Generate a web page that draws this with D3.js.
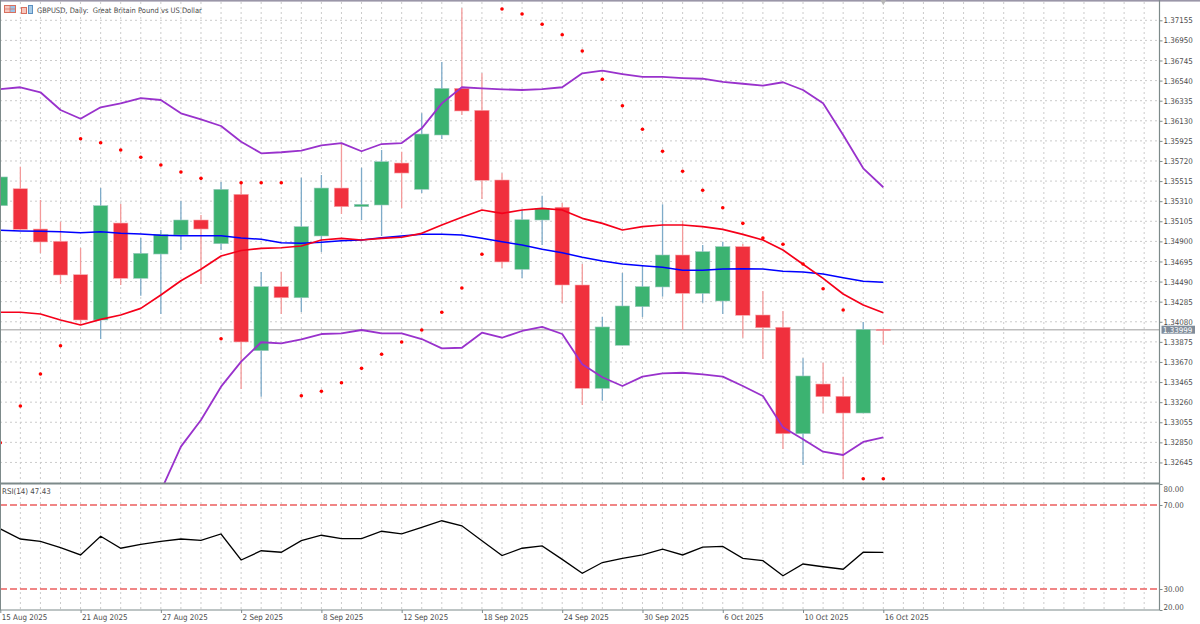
<!DOCTYPE html>
<html><head><meta charset="utf-8">
<script src="https://cdn.jsdelivr.net/npm/d3@7"></script>
<style>html,body{margin:0;padding:0;background:#fff;overflow:hidden}svg{display:block}text{font-family:"DejaVu Sans Condensed","DejaVu Sans",sans-serif;font-stretch:condensed}</style>
</head><body><svg id="c" width="1200" height="624"></svg>
<script>
const dates=["15 Aug 2025","18 Aug 2025","19 Aug 2025","20 Aug 2025","21 Aug 2025","22 Aug 2025","25 Aug 2025","26 Aug 2025","27 Aug 2025","28 Aug 2025","29 Aug 2025","1 Sep 2025","2 Sep 2025","3 Sep 2025","4 Sep 2025","5 Sep 2025","8 Sep 2025","9 Sep 2025","10 Sep 2025","11 Sep 2025","12 Sep 2025","15 Sep 2025","16 Sep 2025","17 Sep 2025","18 Sep 2025","19 Sep 2025","22 Sep 2025","23 Sep 2025","24 Sep 2025","25 Sep 2025","26 Sep 2025","29 Sep 2025","30 Sep 2025","1 Oct 2025","2 Oct 2025","3 Oct 2025","6 Oct 2025","7 Oct 2025","8 Oct 2025","9 Oct 2025","10 Oct 2025","13 Oct 2025","14 Oct 2025","15 Oct 2025","16 Oct 2025"];
const opens=[1.35264,1.35437,1.35026,1.34901,1.34560,1.34098,1.35087,1.34523,1.34771,1.34965,1.35118,1.34876,1.35380,1.33785,1.34438,1.34325,1.34955,1.35444,1.35254,1.35271,1.35699,1.35431,1.35985,1.36461,1.36237,1.35526,1.34615,1.35118,1.35248,1.34455,1.33401,1.33840,1.34234,1.34435,1.34761,1.34370,1.34292,1.34846,1.34149,1.34024,1.32938,1.33445,1.33320,1.33149,1.34003];
const highs=[1.35659,1.35662,1.35322,1.35101,1.34832,1.35444,1.35281,1.34934,1.35016,1.35312,1.35169,1.35506,1.35509,1.34588,1.34591,1.35549,1.35577,1.35900,1.35651,1.35832,1.35815,1.36206,1.36730,1.37277,1.36614,1.35594,1.35220,1.35366,1.35291,1.34669,1.34132,1.34577,1.34659,1.35278,1.35111,1.34863,1.34897,1.34873,1.34394,1.34190,1.33707,1.33662,1.33520,1.34078,1.34003];
const lows=[1.35240,1.35016,1.34781,1.34465,1.34047,1.33904,1.34455,1.34346,1.34159,1.34812,1.34465,1.34812,1.33394,1.33316,1.34159,1.34180,1.34792,1.35179,1.35118,1.34955,1.35240,1.35393,1.35944,1.36189,1.35332,1.34628,1.34526,1.34863,1.34268,1.33231,1.33275,1.33840,1.34129,1.34336,1.33996,1.34274,1.34159,1.33917,1.33700,1.32782,1.32619,1.33146,1.32473,1.33149,1.33846];
const closes=[1.35557,1.35023,1.34894,1.34557,1.34098,1.35264,1.34523,1.34778,1.34972,1.35118,1.35026,1.35431,1.33874,1.34438,1.34325,1.35050,1.35444,1.35254,1.35278,1.35713,1.35597,1.35995,1.36461,1.36230,1.35523,1.34690,1.35121,1.35237,1.34455,1.33401,1.34027,1.34241,1.34438,1.34761,1.34370,1.34795,1.34846,1.34146,1.34019,1.32938,1.33527,1.33316,1.33149,1.34003,1.33999];
const bandUpper=[1.36454,1.36472,1.36421,1.36240,1.36151,1.36268,1.36308,1.36362,1.36342,1.36206,1.36145,1.36077,1.35917,1.35798,1.35809,1.35825,1.35880,1.35903,1.35819,1.35893,1.35903,1.36053,1.36308,1.36472,1.36461,1.36451,1.36444,1.36454,1.36472,1.36614,1.36641,1.36607,1.36577,1.36577,1.36566,1.36559,1.36526,1.36508,1.36488,1.36523,1.36444,1.36308,1.35985,1.35645,1.35452];
const bandMiddle=[1.34177,1.34177,1.34159,1.34098,1.34047,1.34105,1.34149,1.34217,1.34353,1.34499,1.34615,1.34751,1.34807,1.34829,1.34835,1.34853,1.34914,1.34931,1.34914,1.34931,1.34942,1.34982,1.35067,1.35146,1.35220,1.35186,1.35220,1.35237,1.35220,1.35135,1.35084,1.35016,1.35050,1.35067,1.35067,1.35050,1.35023,1.34972,1.34914,1.34812,1.34666,1.34523,1.34363,1.34251,1.34172];
const bandLower=[null,null,null,null,null,null,null,null,1.32354,1.32806,1.33078,1.33418,1.33673,1.33871,1.33860,1.33901,1.33955,1.33962,1.33996,1.33962,1.33962,1.33904,1.33809,1.33815,1.33968,1.33917,1.33986,1.34027,1.33955,1.33646,1.33514,1.33425,1.33520,1.33554,1.33560,1.33544,1.33520,1.33425,1.33323,1.33004,1.32881,1.32755,1.32721,1.32854,1.32902];
const movingAvg=[1.35013,1.35006,1.35003,1.34999,1.34988,1.34999,1.34982,1.34975,1.34962,1.34958,1.34958,1.34958,1.34934,1.34921,1.34886,1.34880,1.34891,1.34907,1.34914,1.34937,1.34955,1.34972,1.34972,1.34965,1.34931,1.34897,1.34863,1.34819,1.34784,1.34738,1.34700,1.34669,1.34652,1.34636,1.34605,1.34605,1.34618,1.34621,1.34618,1.34595,1.34588,1.34567,1.34529,1.34493,1.34483];
const psar=[1.32846,1.33221,1.33547,1.33836,1.35947,1.35906,1.35832,1.35758,1.35679,1.35608,1.35543,1.33907,1.35498,1.35498,1.35498,1.33326,1.33371,1.33458,1.33605,1.33748,1.33874,1.33996,1.34177,1.34424,1.34768,1.37270,1.37219,1.37114,1.37008,1.36842,1.36553,1.36284,1.36043,1.35819,1.35615,1.35421,1.35243,1.35084,1.34934,1.34870,1.34669,1.34417,1.34200,1.32479,1.32479];
const rsi=[58.6,53.8,52.7,49.7,46.2,55.1,49.4,51.3,52.7,53.8,53.2,56.2,43.8,48.2,47.5,53.0,55.6,54.0,54.0,57.5,56.3,59.4,62.5,60.1,53.0,45.9,49.4,50.5,44.1,37.5,42.6,44.6,46.3,49.0,46.2,49.9,50.3,44.6,43.5,36.3,41.9,40.6,39.4,47.5,47.43];
const priceTicks=[1.37155,1.36950,1.36745,1.36540,1.36335,1.36130,1.35925,1.35720,1.35515,1.35310,1.35105,1.34900,1.34695,1.34490,1.34285,1.34080,1.33875,1.33670,1.33465,1.33260,1.33055,1.32850,1.32645];
const rsiTicks=[80,70,30,20];
const rsiLevels=[70,30];
const lastPrice=1.33999;
const title="GBPUSD, Daily:  Great Britain Pound vs US Dollar";
const rsiTitle="RSI(14) 47.43";

const W=1159.5, mainB=483, paneB=610;
const svg=d3.select("#c");
const x=d3.scaleLinear().domain([0,44]).range([0.3,883.3]);
const y=d3.scaleLinear().domain([1.37155,1.32645]).range([20.3,462.45]);
const yR=d3.scaleLinear().domain([20,80]).range([610,484]);
const idx=dates.map((d,i)=>i);
const GRID="#cbcbcb", AX="#7d8a8a", TXT="#4a4a4a", FS="7.9px";

svg.append("defs").append("clipPath").attr("id","m").append("rect").attr("width",W).attr("height",mainB);

// grid
const gg=svg.append("g").attr("stroke",GRID).attr("stroke-width",1).attr("stroke-dasharray","2 3");
gg.selectAll("line.v").data(d3.range(0,58)).join("line").attr("x1",d=>x(d)).attr("x2",d=>x(d)).attr("y1",2).attr("y2",paneB);
gg.selectAll("line.h").data(priceTicks).join("line").attr("class","h").attr("x1",0).attr("x2",W).attr("y1",d=>y(d)).attr("y2",d=>y(d));

// last price line
svg.append("line").attr("x1",0).attr("x2",W).attr("y1",y(lastPrice)).attr("y2",y(lastPrice)).attr("stroke","#bdbdbd").attr("stroke-width",1.5);

const main=svg.append("g").attr("clip-path","url(#m)");
const up=i=>closes[i]>=opens[i];
main.selectAll("line.w").data(idx).join("line").attr("class","w")
 .attr("x1",x).attr("x2",x).attr("y1",i=>y(highs[i])).attr("y2",i=>y(lows[i]))
 .attr("stroke",i=>up(i)?"#7eabc9":"#f39a9a").attr("stroke-width",1.3);
const bw=14.4;
main.selectAll("rect.b").data(idx).join("rect").attr("class","b")
 .attr("x",i=>x(i)-bw/2).attr("width",bw)
 .attr("y",i=>y(Math.max(opens[i],closes[i])))
 .attr("height",i=>Math.max(1.2,Math.abs(y(opens[i])-y(closes[i]))))
 .attr("fill",i=>up(i)?"#3cb371":"#f0303d")
 .attr("stroke",i=>up(i)?"#9cc9c0":"#f7a8ac").attr("stroke-width",0.6);

const line=a=>d3.line().defined(i=>a[i]!==null).x(i=>x(i)).y(i=>y(a[i]))(idx);
[[bandUpper,"#9932cc",1.8],[bandLower,"#9932cc",1.8],[movingAvg,"#0000ff",1.5],[bandMiddle,"#f5001a",1.7]].forEach(([a,c,w])=>{
 main.append("path").attr("d",line(a)).attr("fill","none").attr("stroke",c).attr("stroke-width",w).attr("stroke-linejoin","round");
});
main.selectAll("circle").data(idx).join("circle").attr("cx",x).attr("cy",i=>y(psar[i])).attr("r",1.8).attr("fill","#ff0000");

// rsi pane
svg.append("g").selectAll("line").data(rsiLevels).join("line").attr("x1",0).attr("x2",W).attr("y1",d=>yR(d)).attr("y2",d=>yR(d))
 .attr("stroke","#ec5f5f").attr("stroke-width",1.4).attr("stroke-dasharray","7 3");
svg.append("path").attr("d",d3.line().x(i=>x(i)).y(i=>yR(rsi[i]))(idx)).attr("fill","none").attr("stroke","#000").attr("stroke-width",1.3);

// frame
svg.append("rect").attr("x",0).attr("y",0).attr("width",1200).attr("height",1.6).attr("fill","#9a96a8");
svg.append("rect").attr("x",0).attr("y",0).attr("width",1).attr("height",paneB).attr("fill","#7d8a8a");
svg.append("rect").attr("x",0).attr("y",482.5).attr("width",W).attr("height",2).attr("fill",AX);
svg.append("path").attr("d",d3.symbol(d3.symbolTriangle,14)()).attr("transform",`translate(${x(44)},2) rotate(180)`).attr("fill","#b8b8b8");

// axes
const fmt=sel=>{sel.selectAll(".domain").attr("stroke",AX).attr("stroke-width",1.2);sel.selectAll(".tick line").attr("stroke",AX);sel.selectAll("text").attr("fill",TXT).attr("font-size",FS).attr("font-family",null);};
const ax1=svg.append("g").attr("transform",`translate(${W},0)`).call(d3.axisRight(y).tickValues(priceTicks).tickFormat(d3.format(".5f")).tickSize(3).tickPadding(1)).call(fmt);
ax1.select(".domain").attr("d",`M0,0V${paneB}`);
const ax2=svg.append("g").attr("transform",`translate(${W},0)`).call(d3.axisRight(yR).tickValues(rsiTicks).tickFormat(d3.format(".2f")).tickSize(3).tickPadding(1)).call(fmt);
ax2.select(".domain").remove();
ax2.selectAll(".tick text").attr("dy",d=>d===80?"0.9em":d===20?"-0.1em":"0.32em");
const ax3=svg.append("g").attr("transform",`translate(0,${paneB})`).call(d3.axisBottom(x).tickValues(idx.filter(i=>i%4===0)).tickFormat(i=>dates[i]).tickSize(3).tickPadding(2)).call(fmt);
ax3.select(".domain").attr("d",`M0,0H${W}`);
ax3.selectAll(".tick text").attr("text-anchor","start").attr("x",1).attr("y",3).attr("dy","0.85em");

// last price tag
svg.append("rect").attr("x",1161.5).attr("y",y(lastPrice)-4).attr("width",33.5).attr("height",8).attr("fill","#7f8c9a");
svg.append("text").attr("x",1163).attr("y",y(lastPrice)+3).attr("font-size",FS).attr("fill","#fff").text(d3.format(".5f")(lastPrice));

// titles
svg.append("text").attr("x",37).attr("y",13).attr("font-size","7.5px").attr("fill",TXT).style("white-space","pre").text(title);
svg.append("text").attr("x",2).attr("y",494).attr("font-size",FS).attr("fill",TXT).text(rsiTitle);

// toolbar icons
const ic=svg.append("g");
ic.append("rect").attr("x",4.5).attr("y",5.5).attr("width",11).attr("height",7).attr("fill","#f6c8c0").attr("stroke","#d8705f");
ic.append("rect").attr("x",10).attr("y",6).attr("width",5).attr("height",6).attr("fill","#9cc4e8");
ic.append("path").attr("d","M5,9H15M10,6V12").attr("stroke","#d8705f").attr("stroke-width",0.7);
ic.append("rect").attr("x",21.5).attr("y",7.5).attr("width",5).attr("height",6).attr("fill","#f6c8c0").attr("stroke","#d8705f");
ic.append("rect").attr("x",28.5).attr("y",5.5).attr("width",4).attr("height",8).attr("fill","#a8cce8").attr("stroke","#5b8fc0");
</script></body></html>
